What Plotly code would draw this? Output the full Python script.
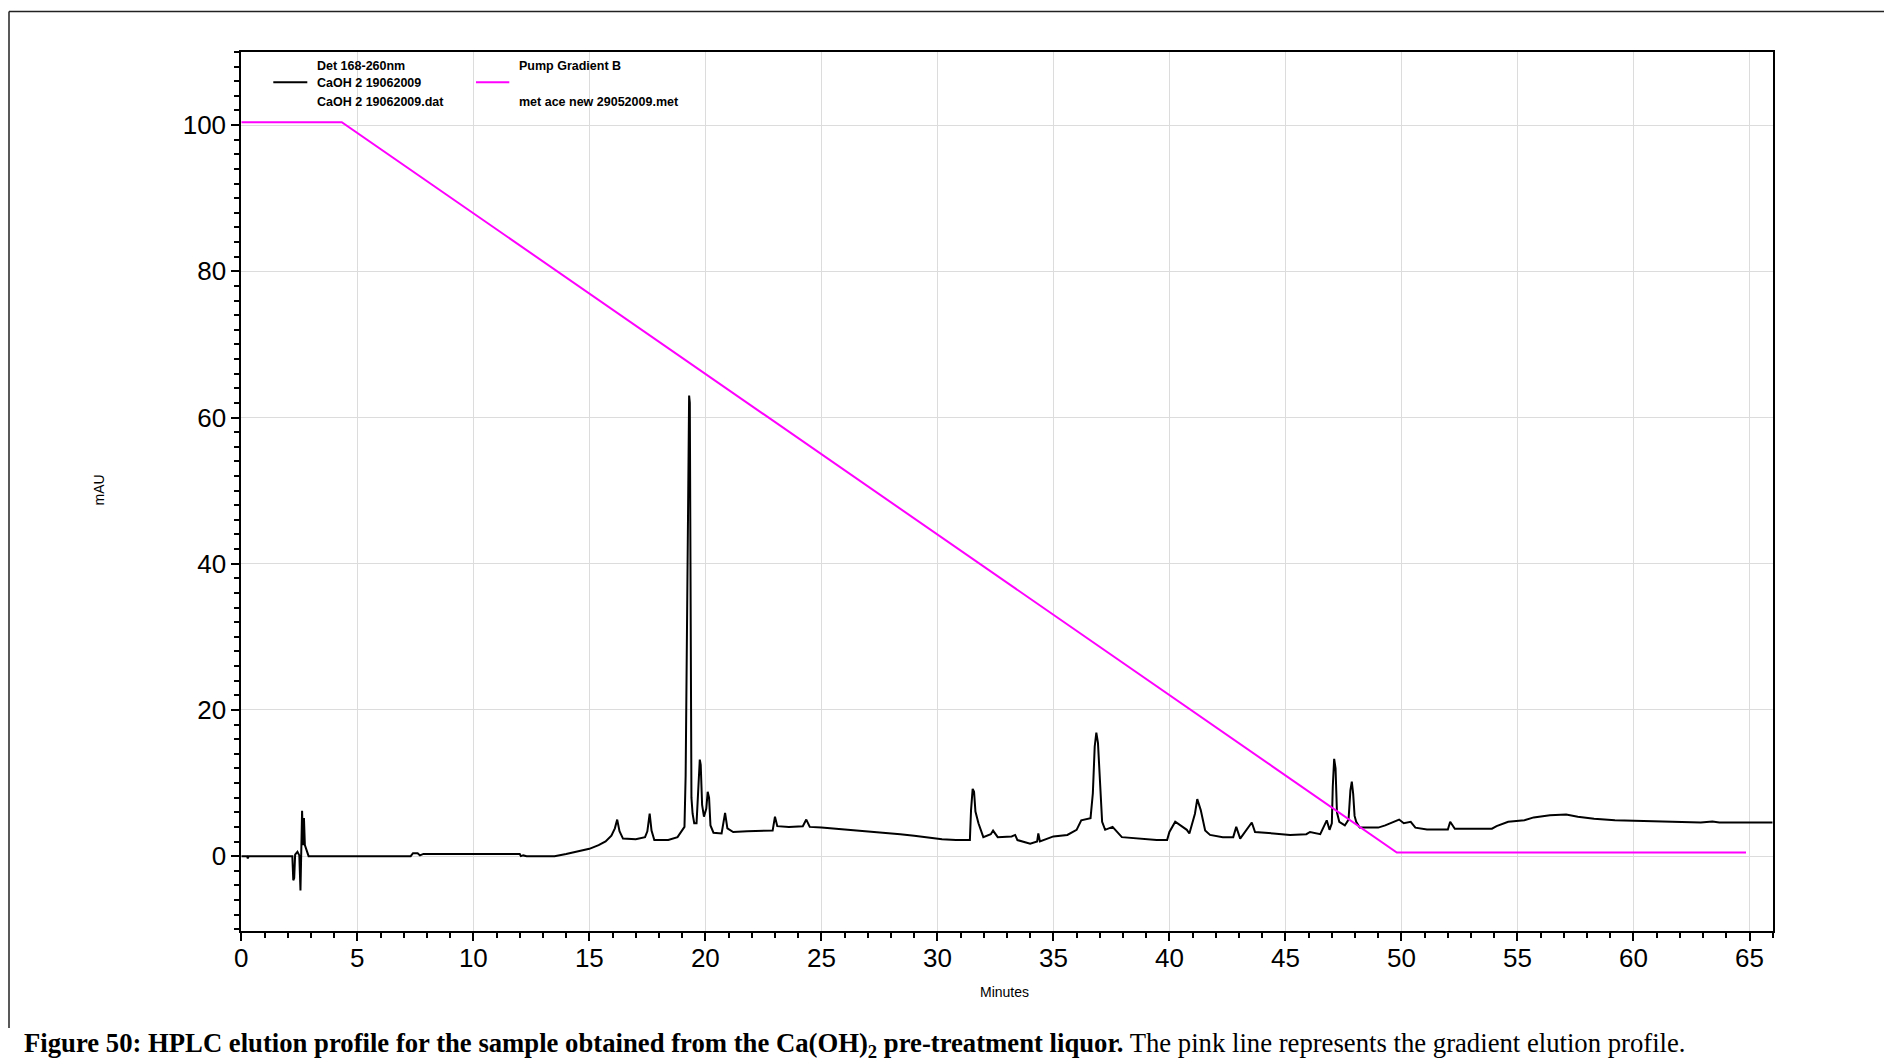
import plotly.graph_objects as go

# Detector trace (Det 168-260nm), time in minutes, absorbance in mAU
det_time = [
    0.00, 0.25, 0.28, 0.32, 2.20, 2.24, 2.28, 2.32, 2.42, 2.50, 2.55, 2.58, 2.62, 2.66,
    2.70, 2.74, 2.80, 2.90, 7.30, 7.40, 7.60, 7.70, 7.85, 12.00, 12.05, 12.15, 12.30,
    13.50, 14.00, 14.50, 15.00, 15.40, 15.70, 15.95, 16.10, 16.20, 16.30, 16.45, 17.00,
    17.40, 17.50, 17.60, 17.68, 17.80, 18.40, 18.80, 18.95, 19.10, 19.15, 19.22, 19.26,
    19.30, 19.33, 19.37, 19.40, 19.45, 19.52, 19.62, 19.70, 19.76, 19.80, 19.86, 19.94,
    20.04, 20.10, 20.16, 20.22, 20.35, 20.70, 20.85, 20.95, 21.20, 21.80, 22.40, 22.90,
    23.00, 23.10, 23.60, 24.20, 24.35, 24.50, 25.00, 25.80, 26.50, 27.20, 27.80, 28.40,
    29.00, 29.60, 30.20, 30.80, 31.40, 31.45, 31.52, 31.58, 31.64, 31.77, 31.98, 32.30,
    32.40, 32.60, 33.20, 33.35, 33.45, 34.00, 34.30, 34.35, 34.42, 35.00, 35.60, 36.00,
    36.20, 36.60, 36.70, 36.78, 36.85, 36.92, 36.98, 37.04, 37.10, 37.23, 37.55, 37.95,
    38.70, 39.45, 39.90, 40.00, 40.25, 40.46, 40.75, 40.86, 41.00, 41.10, 41.20, 41.35,
    41.54, 41.75, 42.30, 42.75, 42.88, 43.05, 43.55, 43.69, 44.48, 45.20, 45.90, 46.06,
    46.50, 46.78, 46.90, 47.00, 47.04, 47.10, 47.16, 47.22, 47.32, 47.56, 47.72, 47.80,
    47.86, 47.92, 47.98, 48.05, 48.20, 49.00, 49.30, 49.90, 50.10, 50.40, 50.60, 51.10,
    52.00, 52.10, 52.30, 53.90, 54.10, 54.60, 55.30, 55.70, 56.40, 57.10, 57.60, 58.30,
    59.20, 60.80, 62.90, 63.40, 63.70, 66.00,
]
det_mau = [
    0.0, 0.0, -0.3, 0.0, 0.0, -3.3, -3.0, 0.2, 0.6, 0.1, -4.7, -1.0, 6.2, 1.5,
    5.2, 1.5, 1.0, 0.0, 0.0, 0.4, 0.4, 0.1, 0.3, 0.3, 0.0, 0.1, 0.0,
    0.0, 0.3, 0.6, 1.0, 1.5, 2.0, 2.8, 3.8, 5.0, 3.4, 2.4, 2.3,
    2.6, 3.4, 5.8, 3.5, 2.2, 2.2, 2.6, 3.4, 4.0, 11.0, 38.0, 42.5,
    63.0, 62.0, 20.0, 8.0, 5.8, 4.5, 4.5, 9.0, 13.2, 12.5, 7.0, 5.4,
    6.5, 8.8, 8.0, 4.2, 3.2, 3.1, 5.9, 3.8, 3.3, 3.4, 3.4, 3.5,
    5.4, 4.1, 4.0, 4.1, 5.0, 4.0, 3.9, 3.7, 3.5, 3.4, 3.2, 3.0,
    2.8, 2.5, 2.3, 2.2, 2.2, 6.3, 9.2, 8.8, 6.1, 4.5, 2.6, 3.0,
    3.5, 2.6, 2.7, 2.9, 2.2, 1.7, 2.0, 3.1, 2.0, 2.7, 2.9, 3.6,
    4.9, 5.2, 8.6, 15.0, 16.9, 15.5, 11.3, 7.2, 4.7, 3.6, 4.0, 2.6,
    2.4, 2.2, 2.2, 3.3, 4.7, 4.2, 3.6, 3.1, 4.7, 5.8, 7.8, 6.3,
    3.5, 2.9, 2.6, 2.6, 4.0, 2.4, 4.6, 3.3, 3.1, 2.9, 3.0, 3.3,
    3.0, 4.9, 3.6, 4.5, 9.5, 13.3, 12.0, 6.0, 4.7, 4.2, 5.0, 9.0,
    10.2, 8.5, 5.5, 4.7, 3.9, 3.9, 4.2, 5.0, 4.5, 4.7, 3.9, 3.65,
    3.65, 4.7, 3.75, 3.75, 4.1, 4.7, 4.9, 5.3, 5.6, 5.7, 5.4, 5.1,
    4.9, 4.8, 4.6, 4.75, 4.6, 4.6,
]

# Pump gradient B profile
pump_time = [0.0, 4.33, 49.8, 64.85]
pump_pct = [100.4, 100.4, 0.5, 0.5]

# Axis ticks
x_ticks = [0, 5, 10, 15, 20, 25, 30, 35, 40, 45, 50, 55, 60, 65]
y_ticks = [0, 20, 40, 60, 80, 100]

W, H = 1884, 1064


def px(x):
    return x / W


def py(y):
    return 1 - y / H


SANS = "Liberation Sans, Arial, sans-serif"
SERIF = "Liberation Serif, Times New Roman, serif"

fig = go.Figure()
fig.add_trace(go.Scatter(
    x=det_time, y=det_mau, mode="lines",
    line=dict(color="black", width=2),
    name="Det 168-260nm", hoverinfo="skip",
))
fig.add_trace(go.Scatter(
    x=pump_time, y=pump_pct, mode="lines",
    line=dict(color="#ff00ff", width=2),
    name="Pump Gradient B", hoverinfo="skip",
))

axis_common = dict(
    showline=True, linecolor="black", linewidth=2, mirror=True,
    ticks="outside", ticklen=8, tickwidth=2, tickcolor="black",
    showgrid=True, gridcolor="#dcdcdc", gridwidth=1,
    zeroline=False, automargin=False,
    tickfont=dict(family=SANS, size=26, color="black"),
)

fig.update_xaxes(
    range=[0, 66], domain=[px(241.3), px(1772.7)],
    tickmode="array", tickvals=x_ticks, ticklabelstandoff=-5,
    minor=dict(dtick=1, tick0=0, ticks="outside", ticklen=5, tickwidth=1.5,
               tickcolor="black", showgrid=False),
    **axis_common,
)
fig.update_yaxes(
    range=[-10.2, 110], domain=[py(930.7), py(52)],
    tickmode="array", tickvals=y_ticks,
    minor=dict(dtick=2, tick0=0, ticks="outside", ticklen=5, tickwidth=1.5,
               tickcolor="black", showgrid=False),
    **axis_common,
)

annotations = []
# axis titles
annotations.append(dict(x=px(1004), y=py(992), xref="paper", yref="paper", text="Minutes",
                        xanchor="center", yanchor="middle", showarrow=False,
                        font=dict(family=SANS, size=14, color="black")))
annotations.append(dict(x=px(98.5), y=py(490), xref="paper", yref="paper", text="mAU",
                        xanchor="center", yanchor="middle", textangle=-90, showarrow=False,
                        font=dict(family=SANS, size=14, color="black")))

# legend block
leg_font = dict(family=SANS, size=12.5, color="black")
for txt, xx, yy in [
    ("<b>Det 168-260nm</b>", 314.5, 66),
    ("<b>CaOH 2 19062009</b>", 314.5, 83.3),
    ("<b>CaOH 2 19062009.dat</b>", 314.5, 101.7),
    ("<b>Pump Gradient B</b>", 517, 66),
    ("<b>met ace new 29052009.met</b>", 517, 101.7),
]:
    annotations.append(dict(x=px(xx), y=py(yy), xref="paper", yref="paper", text=txt,
                            xanchor="left", yanchor="middle", showarrow=False, font=leg_font))

# caption
annotations.append(dict(
    x=px(22), y=py(1045), xref="paper", yref="paper", xanchor="left", yanchor="middle",
    text=("<b>Figure 50: HPLC elution profile for the sample obtained from the "
          "Ca(OH)<sub>2</sub> pre-treatment liquor.</b> The pink line represents the "
          "gradient elution profile."),
    showarrow=False, font=dict(family=SERIF, size=26.7, color="black"),
))

shapes = [
    # legend line samples
    dict(type="line", xref="paper", yref="paper", x0=px(273.3), x1=px(307.3),
         y0=py(82.3), y1=py(82.3), line=dict(color="black", width=2)),
    dict(type="line", xref="paper", yref="paper", x0=px(476), x1=px(509.3),
         y0=py(82.3), y1=py(82.3), line=dict(color="#ff00ff", width=2)),
    # outer frame
    dict(type="line", xref="paper", yref="paper", x0=px(9), x1=1,
         y0=py(11.5), y1=py(11.5), line=dict(color="#222222", width=1.5)),
    dict(type="line", xref="paper", yref="paper", x0=px(9), x1=px(9),
         y0=py(11.5), y1=py(1028), line=dict(color="#222222", width=1.5)),
]

fig.update_layout(
    width=W, height=H, autosize=False,
    margin=dict(l=0, r=0, t=0, b=0, pad=0),
    paper_bgcolor="white", plot_bgcolor="white",
    showlegend=False, hovermode=False,
    annotations=annotations, shapes=shapes,
)

fig.write_html("out.html", config={"displayModeBar": False})
